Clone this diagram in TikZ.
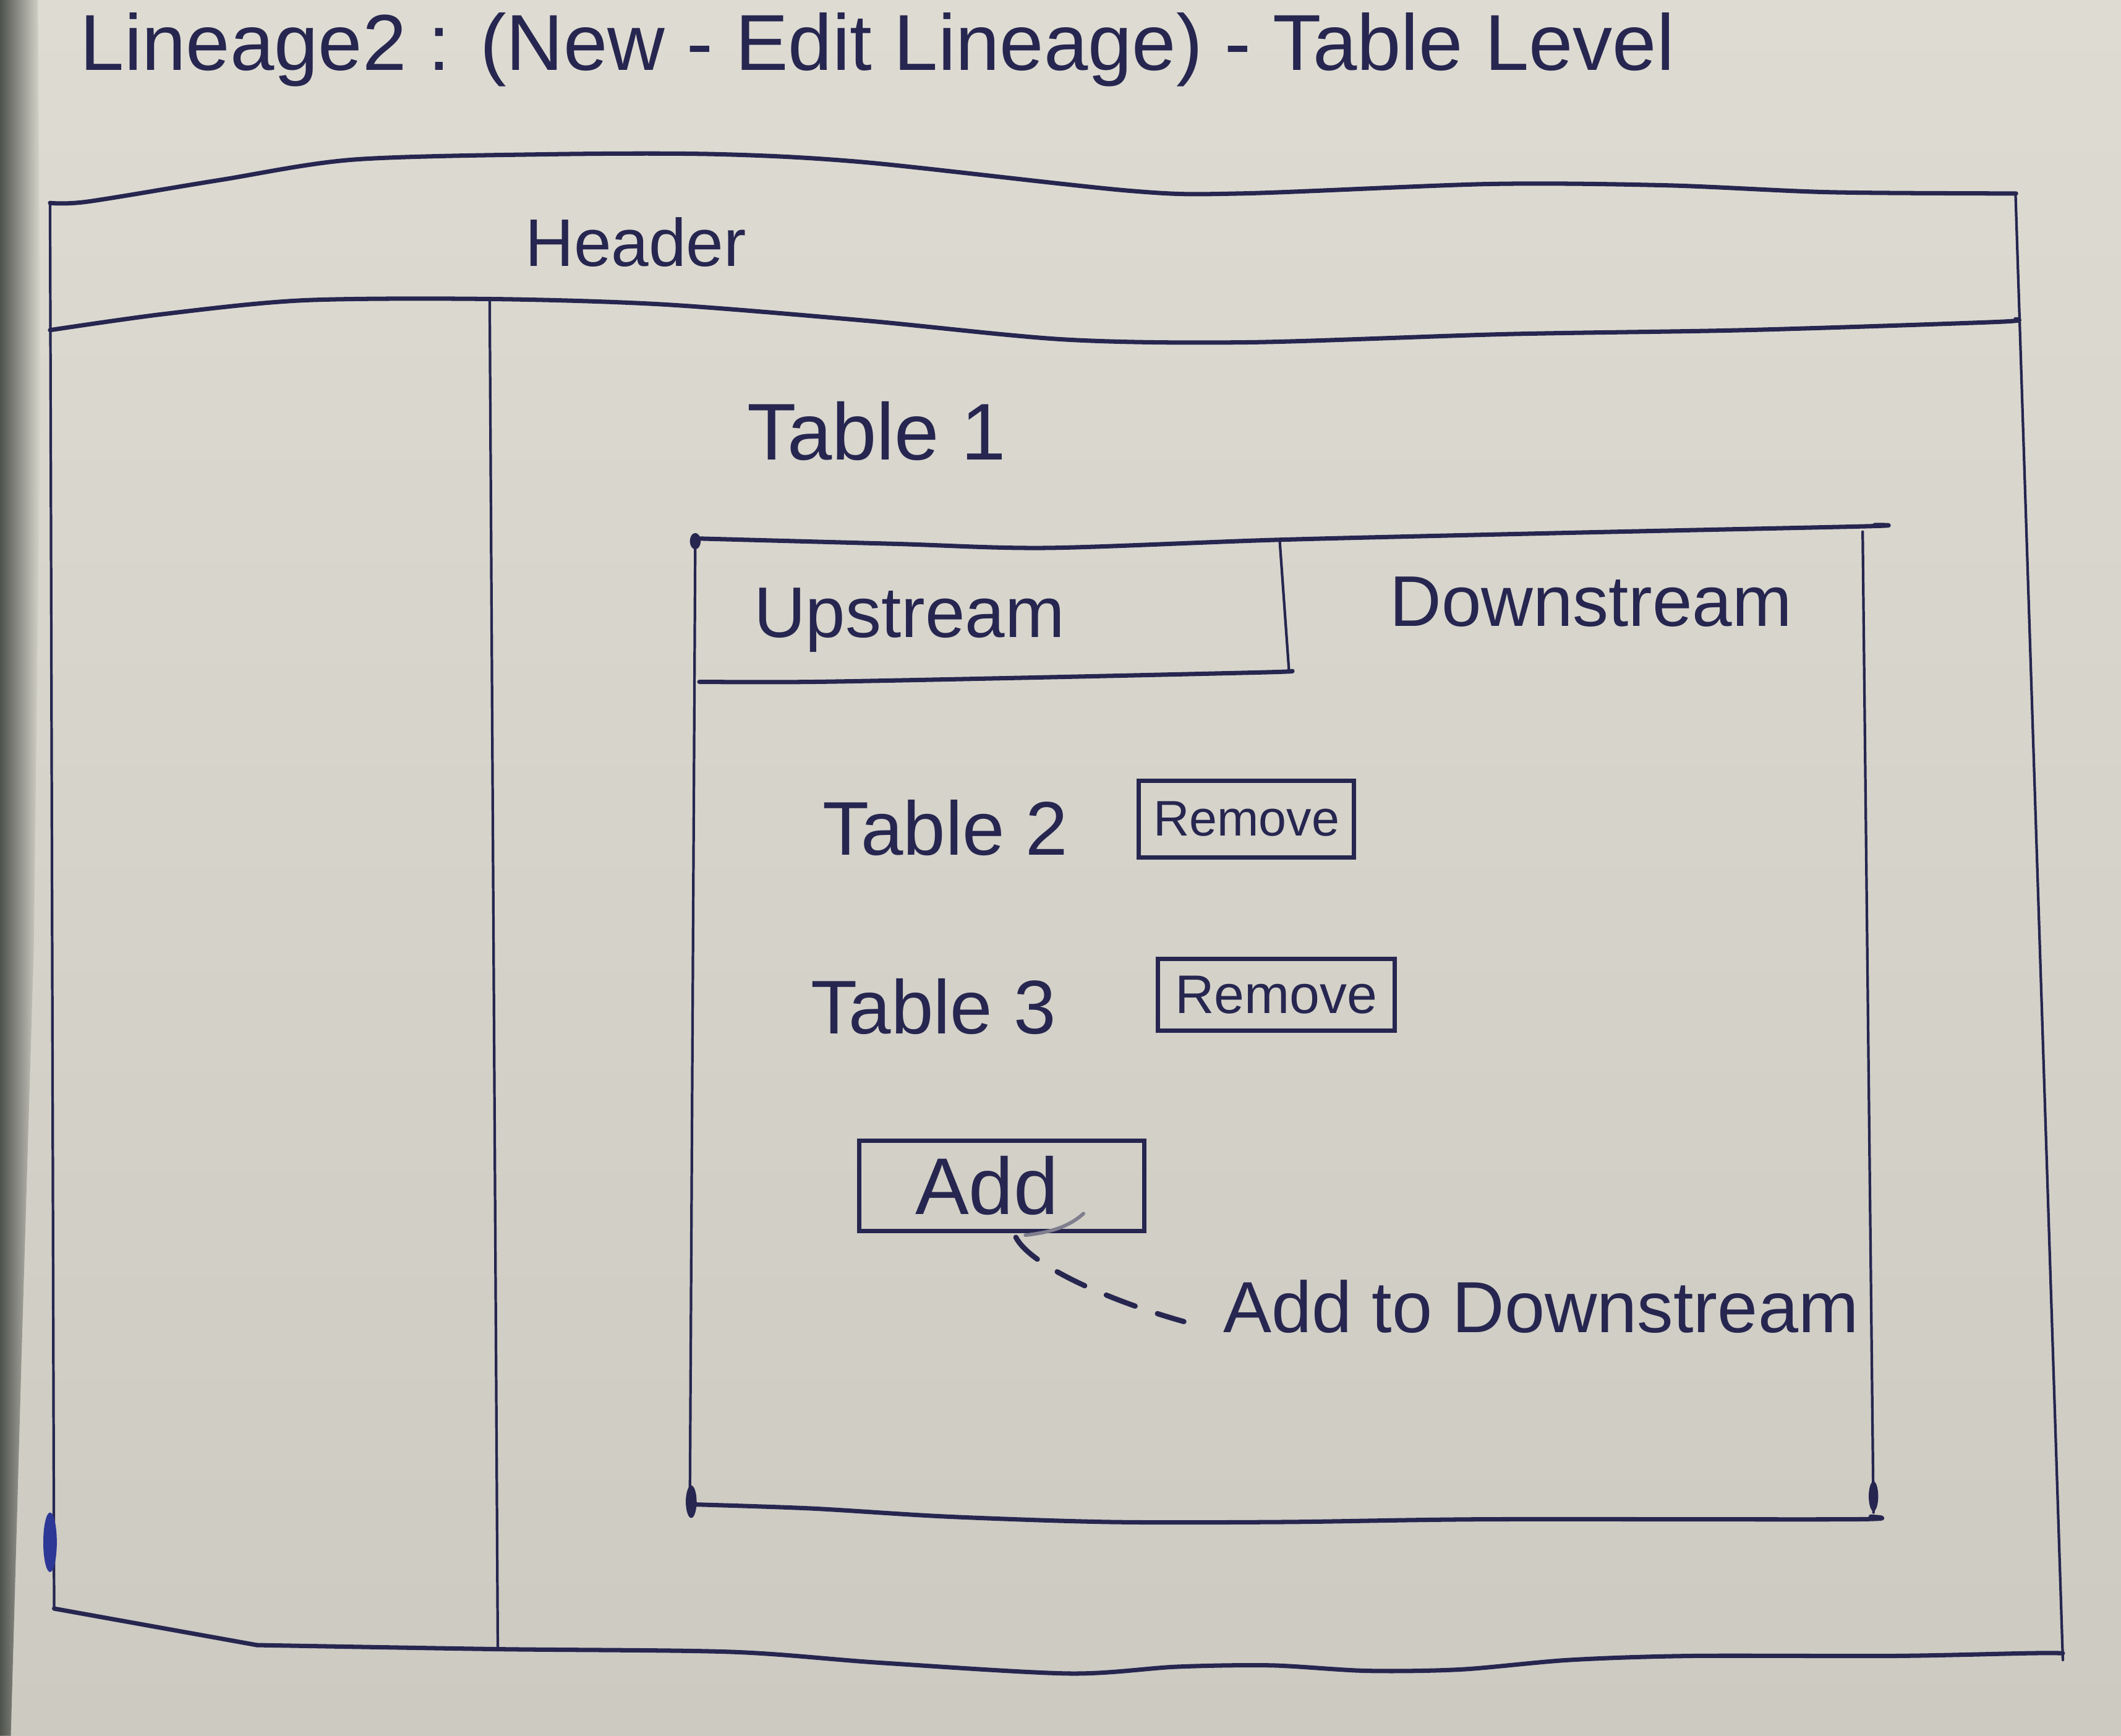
\documentclass[tikz,border=0pt]{standalone}
\usepackage{fontspec}
\setmainfont{Liberation Sans}
\definecolor{inkc}{RGB}{38,38,80}
\definecolor{paperc}{RGB}{216,214,204}
\definecolor{papertop}{RGB}{222,220,210}
\definecolor{paperbot}{RGB}{204,202,193}
\definecolor{shadowc}{RGB}{78,82,76}
\definecolor{blotc}{RGB}{45,55,150}
\tikzset{
  ink/.style={draw=inkc, line width=2pt, line cap=round, line join=round},
  thinink/.style={draw=inkc, line width=1.2pt, line cap=round},
  txt/.style={text=inkc, inner sep=0pt, anchor=base west},
  btn/.style={draw=inkc, line width=2pt, inner sep=0pt, outer sep=0pt, text=inkc},
  dashline/.style={draw=inkc, line width=2.4pt, dash pattern=on 0.5cm off 0.38cm, line cap=round},
  hookline/.style={draw=inkc!50!paperc, line width=1.6pt, line cap=round},
  blot/.style={fill=inkc}
}
\begin{document}
\begin{tikzpicture}[x=0.021875cm, y=-0.021875cm]
\useasboundingbox (0,0) rectangle (1568,1283);
% paper
\shade[top color=papertop, bottom color=paperbot] (0,0) rectangle (1568,1283);
\shade[left color=shadowc, right color=paperc] (0,0) -- (28,0) -- (30,300) -- (25,700) -- (16,1000) -- (8,1283) -- (0,1283) -- cycle;

% title
\node[txt, font=\fontsize{36.5}{39}\selectfont] (title) at (59,52) {Lineage2 : (New - Edit Lineage) - Table Level};

% outer frame
\draw[ink] plot[smooth, tension=0.5] coordinates {(37,150) (65,149) (163,133) (261,118) (408,114) (531,114) (640,120) (835,141) (918,143) (1101,136) (1232,137) (1350,142) (1475,143) (1490,143)};
\draw[ink] plot[smooth, tension=0.5] coordinates {(37,244) (122,232) (224,222) (361,221) (490,225) (640,237) (788,251) (924,253) (1113,247) (1290,244) (1475,238) (1490,236)};
\draw[thinink] (37,150) -- (40,1189);
\draw[thinink] (1490,143) -- (1525,1227);
\draw[thinink] (362,221) -- (368,1219);
\draw[ink] (40,1189) -- (190,1216);
\draw[ink] plot[smooth, tension=0.5] coordinates {(190,1216) (368,1219) (540,1221) (650,1229) (790,1237) (870,1232) (940,1231) (1010,1235) (1080,1234) (1160,1227) (1250,1224) (1400,1224) (1500,1222) (1525,1222)};
\fill[blotc] (37,1140) ellipse [x radius=5, y radius=22];

\node[txt, font=\fontsize{31}{33}\selectfont] (header) at (388,197) {Header};
\node[txt, font=\fontsize{37}{40}\selectfont] (t1) at (552,340) {Table 1};

% tab panel
\draw[ink] plot[smooth, tension=0.5] coordinates {(514,398) (662,402) (774,405) (945,399) (1152,394) (1380,389) (1386,388)};
\draw[thinink] (514,398) -- (510,1112);
\draw[thinink] (1377,393) -- (1385,1118);
\draw[thinink] (946,399) -- (953,497);
\draw[ink] plot[smooth, tension=0.5] coordinates {(517,504) (602,504) (756,501) (933,497) (955,496)};
\draw[ink] plot[smooth, tension=0.5] coordinates {(512,1112) (600,1115) (700,1121) (820,1125) (950,1125) (1100,1123) (1370,1123) (1383,1121)};
\fill[inkc] (511,1110) ellipse [x radius=4, y radius=12];
\fill[inkc] (1385,1106) ellipse [x radius=3.5, y radius=11];
\fill[inkc] (514,400) ellipse [x radius=4, y radius=6];

\node[txt, font=\fontsize{33}{36}\selectfont] (up) at (557,471) {Upstream};
\node[txt, font=\fontsize{33}{36}\selectfont] (down) at (1027,463) {Downstream};

% rows
\node[txt, font=\fontsize{35}{38}\selectfont] (t2) at (608,632) {Table 2};
\node[txt, font=\fontsize{35}{38}\selectfont] (t3) at (599,764) {Table 3};
\node[btn, minimum width=3.478cm, minimum height=1.247cm, font=\fontsize{23}{25}\selectfont] (rm1) at (921.5,605.5) {Remove};
\node[btn, minimum width=3.83cm, minimum height=1.16cm, font=\fontsize{25}{27}\selectfont] (rm2) at (943.5,735.5) {Remove};
\node[btn, minimum width=4.616cm, minimum height=1.466cm, font=\fontsize{37}{40}\selectfont] (addbtn) at (740.5,876.5) {Add\hspace*{0.48cm}};

% annotation
\node[txt, font=\fontsize{33.3}{36}\selectfont] (addlbl) at (904,985) {Add to Downstream};
\draw[hookline] (801,897) .. controls (790,907) and (776,911) .. (758,913);
\draw[dashline] ([xshift=0.23cm,yshift=-0.1cm]addbtn.south) .. controls (762,936) and (822,962) .. ([xshift=-0.63cm,yshift=-0.24cm]addlbl.west);
\end{tikzpicture}
\end{document}
